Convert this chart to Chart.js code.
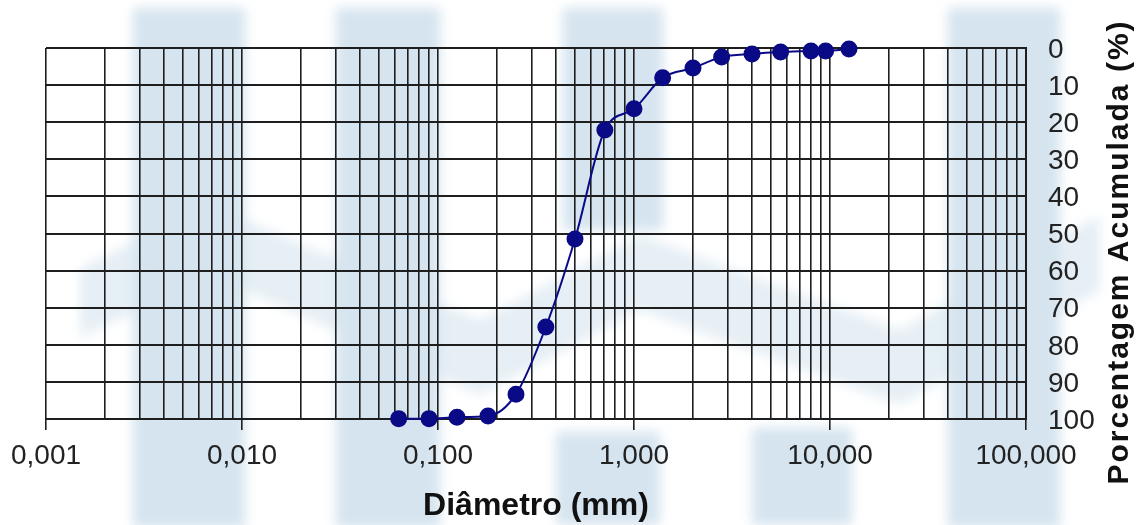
<!DOCTYPE html>
<html>
<head>
<meta charset="utf-8">
<script src="https://cdn.jsdelivr.net/npm/chart.js@4"></script>
<style>
  html, body { margin: 0; padding: 0; background: #fff; }
  #wrap { position: relative; width: 1143px; height: 525px; overflow: hidden; }
  #fundo { position: absolute; left: 0; top: 0; }
  #myChart { position: absolute; left: 0; top: 0; }
</style>
</head>
<body>
<div id="wrap">
  <!-- marca d'agua clara atras do grafico -->
  <svg id="fundo" width="1143" height="525">
    <defs>
      <filter id="borra"><feGaussianBlur stdDeviation="6"/></filter>
    </defs>
    <g fill="#d5e4ef" filter="url(#borra)">
      <rect x="133" y="8" width="112" height="520"/>
      <rect x="336" y="8" width="104" height="520"/>
      <rect x="563" y="8" width="100" height="222"/>
      <rect x="556" y="432" width="104" height="93"/>
      <rect x="752" y="428" width="100" height="97"/>
      <rect x="948" y="8" width="112" height="520"/>
      <path opacity="0.6" d="M 80 268 L 210 205 L 480 320 L 640 235 L 900 330 L 1100 215 L 1100 290 L 900 405 L 640 310 L 480 395 L 210 275 L 80 338 Z"/>
    </g>
  </svg>
  <canvas id="myChart" width="1143" height="525"></canvas>
</div>
<script>
const diametros = [0.063, 0.09, 0.125, 0.18, 0.25, 0.355, 0.5, 0.71, 1.0, 1.4, 2.0, 2.8, 4.0, 5.6, 8.0, 9.5, 12.5];
const porcentagem = [99.9, 99.9, 99.5, 99.2, 93.3, 75.2, 51.5, 22.1, 16.4, 8.0, 5.4, 2.4, 1.6, 1.1, 0.8, 0.8, 0.3];
const decadas = [0.001, 0.01, 0.1, 1, 10, 100];
const passoY = 10;

const fonte = "'Liberation Sans', Arial, sans-serif";

// todas as linhas 1..9 de cada decada
const ticksX = [];
for (let i = 0; i < decadas.length - 1; i++) {
  for (let m = 1; m <= 9; m++) {
    ticksX.push(parseFloat((m * decadas[i]).toPrecision(3)));
  }
}
ticksX.push(decadas[decadas.length - 1]);

const ehDecada = (v) => decadas.some((d) => Math.abs(d - v) < d * 1e-6);

/* titulo do eixo Y lido de baixo pra cima */
const tituloY = {
  id: "tituloY",
  afterDraw(chart) {
    const c = chart.ctx;
    c.save();
    c.translate(1120, 252);
    c.rotate(-Math.PI / 2);
    c.font = "bold 30px " + fonte;
    c.letterSpacing = "2px";
    c.fillStyle = "#111";
    c.textAlign = "center";
    c.textBaseline = "middle";
    c.fillText("Porcentagem Acumulada (%)", 0, 0);
    c.restore();
  },
};

const ctx = document.getElementById("myChart");

new Chart(ctx, {
  type: "line",
  data: {
    datasets: [
      {
        data: diametros.map((d, i) => ({ x: d, y: porcentagem[i] })),
        borderColor: "#0a0a86",
        backgroundColor: "#0a0a86",
        borderWidth: 2,
        pointRadius: 7.5,
        pointHoverRadius: 7.5,
        cubicInterpolationMode: "monotone",
        clip: false,
      },
    ],
  },
  options: {
    responsive: false,
    animation: false,
    events: [],
    layout: { padding: { left: 46, top: 48, right: 0, bottom: 0 } },
    plugins: { legend: { display: false }, tooltip: { enabled: false } },
    scales: {
      x: {
        type: "logarithmic",
        min: 0.001,
        max: 100,
        afterBuildTicks: (scale) => {
          scale.ticks = ticksX.map((v) => ({ value: v }));
        },
        afterFit: (scale) => {
          scale.height = 106;
        },
        ticks: {
          autoSkip: false,
          maxRotation: 0,
          padding: 9,
          color: "#222",
          font: { family: fonte, size: 28 },
          callback: (v) => (ehDecada(v) ? v.toFixed(3).replace(".", ",") : ""),
        },
        grid: {
          color: "#1e1e1e",
          lineWidth: 1.6,
          tickLength: 11,
          tickColor: (c) => (c.tick && ehDecada(c.tick.value) ? "#1e1e1e" : "rgba(0,0,0,0)"),
        },
        border: { color: "#1e1e1e", width: 2 },
        title: {
          display: true,
          text: "Diâmetro (mm)",
          color: "#111",
          font: { family: fonte, size: 32, weight: "bold" },
          padding: { top: 0, bottom: 0 },
        },
      },
      y: {
        position: "right",
        reverse: true,
        min: 0,
        max: 100,
        afterFit: (scale) => {
          scale.width = 117;
        },
        ticks: {
          stepSize: passoY,
          padding: 22,
          labelOffset: 2,
          color: "#222",
          font: { family: fonte, size: 28 },
        },
        grid: { color: "#1e1e1e", lineWidth: 2, drawTicks: false },
        border: { color: "#1e1e1e", width: 2 },
      },
    },
  },
  plugins: [tituloY],
});
</script>
</body>
</html>
